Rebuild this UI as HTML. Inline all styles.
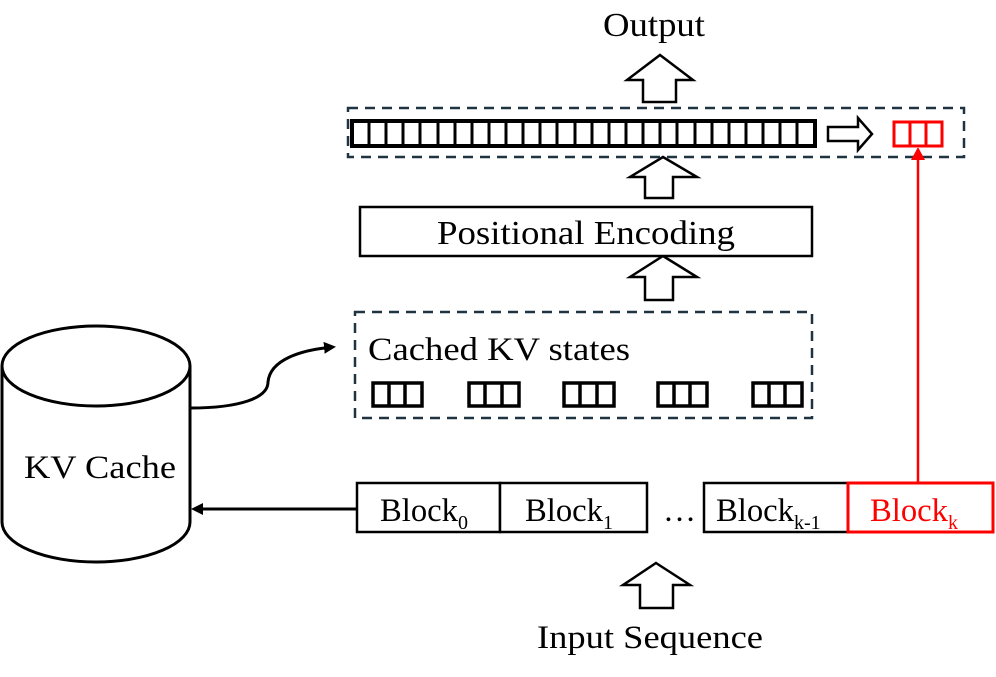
<!DOCTYPE html>
<html><head><style>body{margin:0;background:#fff}svg{display:block}text{font-family:"Liberation Serif",serif}</style></head>
<body>
<svg width="996" height="677" viewBox="0 0 996 677" xmlns="http://www.w3.org/2000/svg">
<defs>
<marker id="ab" markerWidth="12" markerHeight="12" refX="9" refY="6" orient="auto" markerUnits="userSpaceOnUse"><path d="M0,0 L12,6 L0,12 z" fill="#000"/></marker>
<marker id="ar" markerWidth="12" markerHeight="14" refX="10" refY="7" orient="auto" markerUnits="userSpaceOnUse"><path d="M0,0 L13,7 L0,14 z" fill="#f00"/></marker>
</defs>
<text x="603" y="36" font-size="34" textLength="102" lengthAdjust="spacingAndGlyphs">Output</text>
<g fill="#fff" stroke="#000" stroke-width="2.5">
<path d="M660,55 L693,80 L676,80 L676,102 L643,102 L643,80 L627,80 Z"/>
<path d="M663,157 L697,177 L673,177 L673,198 L645,198 L645,177 L630,177 Z"/>
<path d="M663,256 L697,277 L673,277 L673,300 L645,300 L645,277 L630,277 Z"/>
<path d="M656,563 L690,585 L673,585 L673,608 L640,608 L640,585 L623,585 Z"/>
<path d="M828,127 L858,127 L858,118 L872,134 L858,150 L858,141 L828,141 Z"/>
</g>
<rect x="348" y="108" width="616" height="49" fill="none" stroke="#1f3440" stroke-width="2.5" stroke-dasharray="10,7"/>
<rect x="352" y="121" width="463" height="25" fill="none" stroke="#000" stroke-width="4"/>
<g stroke="#000" stroke-width="3">
<path d="M369,121V146M386,121V146M403,121V146M420,121V146M438,121V146M455,121V146M472,121V146M489,121V146M506,121V146M523,121V146M540,121V146M557,121V146M575,121V146M592,121V146M609,121V146M626,121V146M643,121V146M660,121V146M677,121V146M695,121V146M712,121V146M729,121V146M746,121V146M763,121V146M780,121V146M797,121V146"/>
</g>
<rect x="894" y="122" width="48" height="24" fill="none" stroke="#f00" stroke-width="3"/>
<path d="M910,122V146M926,122V146" stroke="#f00" stroke-width="3"/>
<rect x="360" y="207" width="452" height="49" fill="#fff" stroke="#000" stroke-width="2.5"/>
<text x="437" y="244" font-size="34" textLength="298" lengthAdjust="spacingAndGlyphs">Positional Encoding</text>
<rect x="355" y="312" width="457" height="106" fill="none" stroke="#1f3440" stroke-width="2.5" stroke-dasharray="10,7"/>
<text x="368" y="360" font-size="33" textLength="262" lengthAdjust="spacingAndGlyphs">Cached KV states</text>
<g fill="none" stroke="#000" stroke-width="3.5">
<rect x="373" y="383" width="49" height="23"/><path d="M389,383V406M405,383V406"/>
<rect x="469" y="383" width="50" height="23"/><path d="M485,383V406M502,383V406"/>
<rect x="564" y="383" width="50" height="23"/><path d="M580,383V406M597,383V406"/>
<rect x="658" y="383" width="49" height="23"/><path d="M674,383V406M690,383V406"/>
<rect x="753" y="383" width="49" height="23"/><path d="M769,383V406M785,383V406"/>
</g>
<g fill="#fff" stroke="#000" stroke-width="3">
<path d="M2,366 L2,522 A94,40 0 0 0 190,522 L190,366"/>
<ellipse cx="96" cy="366" rx="94" ry="40"/>
</g>
<text x="24" y="478" font-size="33" textLength="152" lengthAdjust="spacingAndGlyphs">KV Cache</text>
<path d="M190,408 C240,408 268,398 268,382 C270,360 300,350 333,347" fill="none" stroke="#000" stroke-width="3" marker-end="url(#ab)"/>
<line x1="357" y1="509" x2="194" y2="509" stroke="#000" stroke-width="3" marker-end="url(#ab)"/>
<g fill="#fff" stroke="#000" stroke-width="2.5">
<rect x="357" y="483" width="143" height="49"/><rect x="500" y="483" width="147" height="49"/><rect x="704" y="483" width="144" height="49"/>
</g>
<rect x="848" y="483" width="145" height="49" fill="#fff" stroke="#f00" stroke-width="3"/>
<g font-size="33">
<text x="380" y="521"><tspan textLength="78" lengthAdjust="spacingAndGlyphs">Block</tspan><tspan font-size="20" dy="8">0</tspan></text>
<text x="525" y="521"><tspan textLength="78" lengthAdjust="spacingAndGlyphs">Block</tspan><tspan font-size="20" dy="8">1</tspan></text>
<text x="663" y="521">…</text>
<text x="716" y="521"><tspan textLength="78" lengthAdjust="spacingAndGlyphs">Block</tspan><tspan font-size="20" dy="8">k-1</tspan></text>
<text x="870" y="521" fill="#f00"><tspan textLength="78" lengthAdjust="spacingAndGlyphs">Block</tspan><tspan font-size="20" dy="8">k</tspan></text>
</g>
<line x1="918" y1="483" x2="918" y2="150" stroke="#f00" stroke-width="2.5" marker-end="url(#ar)"/>
<text x="537" y="648" font-size="33" textLength="226" lengthAdjust="spacingAndGlyphs">Input Sequence</text>
</svg>
</body></html>
